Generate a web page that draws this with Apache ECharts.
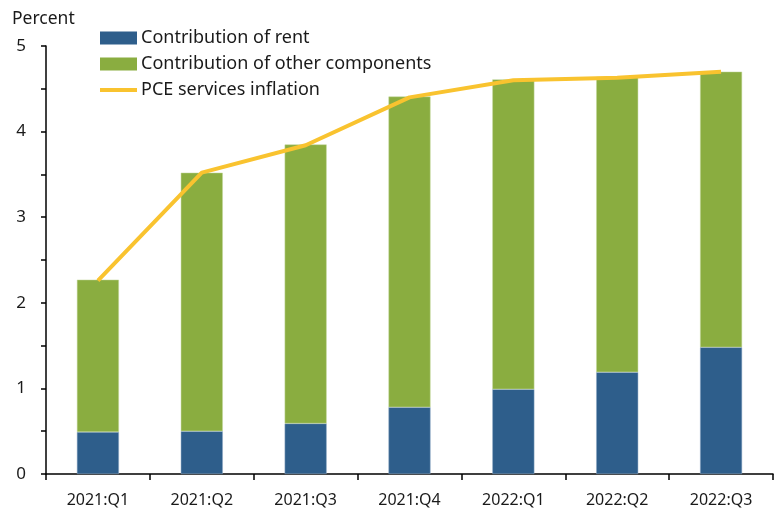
<!DOCTYPE html>
<html>
<head>
<meta charset="utf-8">
<script src="https://cdn.jsdelivr.net/npm/echarts@6/dist/echarts.min.js"></script>
<style>
  html, body { margin: 0; padding: 0; background: #fff; }
  #chart { width: 778px; height: 512px; }
</style>
</head>
<body>
<div id="chart"></div>
<script>
// quarters on the x axis
const quarters = ['2021:Q1', '2021:Q2', '2021:Q3', '2021:Q4', '2022:Q1', '2022:Q2', '2022:Q3']
// contribution of rent (percentage points)
const rent = [0.49, 0.50, 0.59, 0.78, 0.99, 1.19, 1.48]
// contribution of other components (percentage points)
const other = [1.78, 3.02, 3.26, 3.63, 3.62, 3.45, 3.22]
// PCE services inflation (percent)
const pce = [2.26, 3.52, 3.84, 4.40, 4.60, 4.63, 4.70]

const font = '"Noto Sans", "Open Sans", sans-serif'
const textColor = '#1a1a1a'

let chart = echarts.init(document.getElementById('chart'))
let option = {
  animation: false,
  textStyle: { fontFamily: font },
  title: {
    text: 'Percent',
    left: 7,
    top: 5,
    textStyle: { fontFamily: font, fontSize: 17.5, fontWeight: 'normal', color: textColor }
  },
  legend: {
    orient: 'vertical',
    left: 95,
    top: 24,
    itemWidth: 37,
    itemHeight: 13,
    itemGap: 8,
    itemStyle: { borderWidth: 0 },
    textStyle: { fontFamily: font, fontSize: 18, color: textColor, padding: [0, 0, 0, -1] },
    data: [
      { name: 'Contribution of rent', icon: 'rect' },
      { name: 'Contribution of other components', icon: 'rect' },
      { name: 'PCE services inflation', icon: 'path://M0,0h40v4.5h-40z' }
    ]
  },
  grid: { left: 46, right: 5, top: 46, bottom: 38 },
  xAxis: {
    type: 'category',
    data: quarters,
    boundaryGap: true,
    axisLine: { lineStyle: { color: '#000', width: 1.5 } },
    axisTick: { show: true, alignWithLabel: false, length: 6, lineStyle: { color: '#000', width: 1.5 } },
    axisLabel: { color: textColor, fontSize: 16, margin: 18, fontFamily: font }
  },
  yAxis: {
    type: 'value',
    min: 0,
    max: 5,
    interval: 0.5,
    axisLine: { show: true, lineStyle: { color: '#000', width: 1.5 } },
    axisTick: { show: true, length: 5, lineStyle: { color: '#000', width: 1.5 } },
    splitLine: { show: false },
    axisLabel: {
      color: textColor,
      fontSize: 17,
      margin: 20,
      fontFamily: font,
      formatter: function (v) {
        return Number.isInteger(v) ? String(v) : ''
      }
    }
  },
  series: [
    {
      name: 'Contribution of rent',
      type: 'bar',
      stack: 'total',
      barWidth: 42,
      itemStyle: { color: '#2E5E8B', borderColor: '#8fa9c4', borderWidth: 0.5 },
      data: rent
    },
    {
      name: 'Contribution of other components',
      type: 'bar',
      stack: 'total',
      barWidth: 42,
      itemStyle: { color: '#8AAD40', borderColor: '#c5d99f', borderWidth: 0.5 },
      data: other
    },
    {
      name: 'PCE services inflation',
      type: 'line',
      symbol: 'none',
      lineStyle: { color: '#F9C32F', width: 4 },
      itemStyle: { color: '#F9C32F' },
      data: pce
    }
  ]
}
chart.setOption(option)
</script>
</body>
</html>
